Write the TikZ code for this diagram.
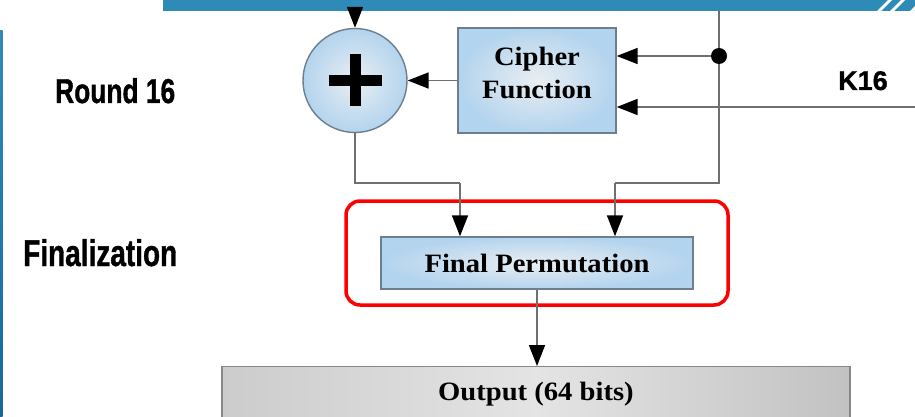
\documentclass[tikz,border=0pt]{standalone}
\usepackage{fontspec}
\setmainfont{Liberation Serif}
\newfontfamily\boxfont[FakeStretch=1.08]{Liberation Serif}
\newfontfamily\sidefont[FakeBold=1.2]{Liberation Sans}
\usetikzlibrary{arrows.meta,calc}

\definecolor{barblue}{HTML}{2E8BB8}
\definecolor{bardeep}{HTML}{17689E}
\definecolor{wire}{HTML}{707070}
\definecolor{edge}{HTML}{6E7E8C}
\definecolor{boxblue}{HTML}{B3D4EE}
\definecolor{boxlight}{HTML}{E9EEF2}
\definecolor{outgray}{HTML}{CCCCCC}
\definecolor{outlight}{HTML}{E4E4E4}
\definecolor{outedge}{HTML}{888888}

% condensed heavy side labels
\newcommand{\sidelabel}[3]{\resizebox{#1}{#2}{\sidefont\bfseries #3}}

\begin{document}
\begin{tikzpicture}[x=1pt,y=-1pt,
  wireline/.style={draw=wire, line width=1.7pt},
  arr/.style={wireline, -{Triangle[length=21pt,width=16pt,color=black]}},
  bluebox/.style={draw=edge, line width=1.4pt, inner color=boxlight, outer color=boxblue,
    inner sep=0pt, align=center, font=\boxfont\bfseries\fontsize{26.5}{33}\selectfont},
  outbox/.style={draw=outedge, line width=1.4pt, left color=outgray, right color=outgray!95!black,
    middle color=outlight, inner sep=0pt, font=\boxfont\bfseries\fontsize{26.5}{33}\selectfont},
]
\useasboundingbox (0,0) rectangle (915,417);
\clip (0,0) rectangle (915,417);

% header bar with slashes
\fill[barblue] (163,0) rectangle (915,11);
\foreach \s in {877,890,910}
  \fill[white] (\s,11) -- ++(4,0) -- ++(11,-11) -- ++(-4,0) -- cycle;

% left side rule
\shade[top color=barblue, bottom color=bardeep] (0,31) rectangle (2.5,417);

% side labels
\node[anchor=base west, inner sep=0pt] (lblround) at (55,103) {\sidelabel{120pt}{25pt}{Round 16}};
\node[anchor=base west, inner sep=0pt] (lblfinal) at (23,266) {\sidelabel{154pt}{27pt}{Finalization}};
\node[anchor=base west, inner sep=0pt, font=\sidefont\bfseries\fontsize{27}{30}\selectfont] (lblkey) at (838,90) {K16};

% highlight frame around the final permutation
\draw[red, line width=3.5pt, rounded corners=14pt] (346,201) rectangle (728,305);

% blocks
\node[circle, draw=edge, line width=1.4pt, inner color=boxlight, outer color=boxblue,
      minimum size=104pt, inner sep=0pt] (xor) at (355,80.5) {};
\fill[black] ($(xor.center)+(-26.5,-5.5)$) rectangle ($(xor.center)+(26.5,5.5)$);
\fill[black] ($(xor.center)+(-5.5,-26)$) rectangle ($(xor.center)+(5.5,26)$);

\node[bluebox, minimum width=158pt, minimum height=105pt, text depth=16pt] (cf) at (537,80.5) {Cipher\\Function};
\node[bluebox, minimum width=312pt, minimum height=52pt] (fp) at (537,263) {Final Permutation};
\node[outbox, anchor=north, minimum width=628pt, minimum height=54pt] (out) at (536,366) {Output (64 bits)};

% wiring points
\coordinate (topin) at (355,11);
\coordinate (rtop) at (719,11);
\coordinate (dot) at (719,56);
\coordinate (rturn) at (719,183);
\coordinate (rdrop) at (615,183);
\coordinate (ltturn) at (355,183);
\coordinate (ltdrop) at (460,183);
\coordinate (keyin) at (915,107);

% connectors
\draw[arr] (topin) -- (xor.north);
\draw[arr] (cf.west) -- (xor.east);
\draw[wireline] (rtop) -- (rturn) -- (rdrop);
\draw[arr] (rdrop) -- (rdrop |- fp.north);
\draw[arr] (dot) -- (cf.east |- dot);
\draw[arr] (keyin) -- (cf.east |- keyin);
\fill[black] (dot) circle (8pt);
\draw[wireline] (xor.south) -- (ltturn) -- (ltdrop);
\draw[arr] (ltdrop) -- (ltdrop |- fp.north);
\draw[arr] (fp.south -| 537,0) -- (out.north -| 537,0);
\end{tikzpicture}
\end{document}
